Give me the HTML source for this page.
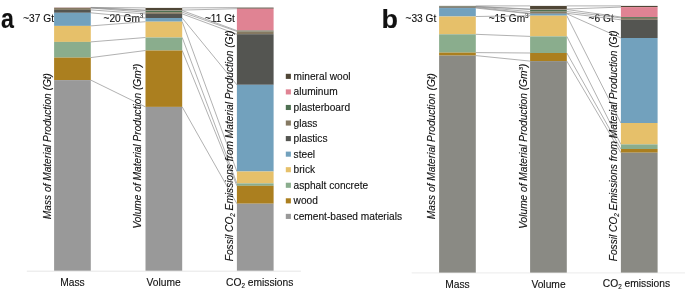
<!DOCTYPE html>
<html><head><meta charset="utf-8"><style>
html,body{margin:0;padding:0;background:#fff;}
body{width:685px;height:293px;overflow:hidden;}
svg{display:block;will-change:transform;}
text{font-family:"Liberation Sans",sans-serif;fill:#111;font-size:10.17px;stroke:#111;stroke-width:0.12px;}
line{stroke:#8f8f8f;stroke-width:0.7;}
</style></head><body>
<svg width="685" height="293" viewBox="0 0 685 293">
<rect width="685" height="293" fill="#fff"/>
<line x1="26.8" y1="271.2" x2="300.9" y2="271.2" style="stroke:#e6e6e6;stroke-width:1"/>
<line x1="411.7" y1="272.9" x2="685" y2="272.9" style="stroke:#ebebeb;stroke-width:1"/>
<text x="23.2" y="21.6">~37 Gt</text>
<text x="103.5" y="21.6">~20 Gm<tspan font-size="6.4" dx="-0.2" dy="-3.8">3</tspan></text>
<text x="204.9" y="21.6">~11 Gt</text>
<text x="405.5" y="21.8">~33 Gt</text>
<text x="488.7" y="21.6">~15 Gm<tspan font-size="6.4" dx="-0.2" dy="-3.8">3</tspan></text>
<text x="588.6" y="21.6">~6 Gt</text>
<line x1="90.80" y1="7.45" x2="145.50" y2="7.90"/>
<line x1="90.80" y1="7.50" x2="145.50" y2="10.10"/>
<line x1="90.80" y1="7.80" x2="145.50" y2="10.50"/>
<line x1="90.80" y1="8.00" x2="145.50" y2="12.20"/>
<line x1="90.80" y1="9.90" x2="145.50" y2="13.90"/>
<line x1="90.80" y1="12.80" x2="145.50" y2="18.00"/>
<line x1="90.80" y1="25.90" x2="145.50" y2="21.70"/>
<line x1="90.80" y1="41.90" x2="145.50" y2="37.50"/>
<line x1="90.80" y1="57.60" x2="145.50" y2="50.50"/>
<line x1="90.80" y1="80.10" x2="145.50" y2="106.90"/>
<line x1="182.20" y1="7.90" x2="236.90" y2="7.60"/>
<line x1="182.20" y1="10.10" x2="236.90" y2="8.70"/>
<line x1="182.20" y1="10.50" x2="236.90" y2="30.60"/>
<line x1="182.20" y1="12.20" x2="236.90" y2="31.40"/>
<line x1="182.20" y1="13.90" x2="236.90" y2="34.20"/>
<line x1="182.20" y1="18.00" x2="236.90" y2="84.80"/>
<line x1="182.20" y1="21.70" x2="236.90" y2="171.50"/>
<line x1="182.20" y1="37.50" x2="236.90" y2="183.40"/>
<line x1="182.20" y1="50.50" x2="236.90" y2="185.80"/>
<line x1="182.20" y1="106.90" x2="236.90" y2="203.70"/>
<line x1="475.80" y1="5.90" x2="530.10" y2="5.90"/>
<line x1="475.80" y1="6.50" x2="530.10" y2="9.00"/>
<line x1="475.80" y1="6.50" x2="530.10" y2="9.50"/>
<line x1="475.80" y1="6.80" x2="530.10" y2="11.60"/>
<line x1="475.80" y1="7.40" x2="530.10" y2="13.30"/>
<line x1="475.80" y1="8.05" x2="530.10" y2="13.80"/>
<line x1="475.80" y1="16.50" x2="530.10" y2="15.70"/>
<line x1="475.80" y1="34.30" x2="530.10" y2="36.40"/>
<line x1="475.80" y1="52.60" x2="530.10" y2="53.00"/>
<line x1="475.80" y1="55.60" x2="530.10" y2="61.10"/>
<line x1="566.80" y1="5.90" x2="620.90" y2="5.90"/>
<line x1="566.80" y1="9.00" x2="620.90" y2="7.10"/>
<line x1="566.80" y1="9.50" x2="620.90" y2="17.00"/>
<line x1="566.80" y1="11.60" x2="620.90" y2="17.90"/>
<line x1="566.80" y1="13.30" x2="620.90" y2="19.80"/>
<line x1="566.80" y1="13.80" x2="620.90" y2="38.00"/>
<line x1="566.80" y1="15.70" x2="620.90" y2="123.00"/>
<line x1="566.80" y1="36.40" x2="620.90" y2="144.40"/>
<line x1="566.80" y1="53.00" x2="620.90" y2="149.00"/>
<line x1="566.80" y1="61.10" x2="620.90" y2="152.70"/>
<rect x="54.10" y="7.45" width="36.7" height="0.05" fill="#4f4636"/>
<rect x="54.10" y="7.50" width="36.7" height="0.30" fill="#e08393"/>
<rect x="54.10" y="7.80" width="36.7" height="0.20" fill="#4e7052"/>
<rect x="54.10" y="8.00" width="36.7" height="1.90" fill="#857962"/>
<rect x="54.10" y="9.90" width="36.7" height="2.90" fill="#545551"/>
<rect x="54.10" y="12.80" width="36.7" height="13.10" fill="#72a1bd"/>
<rect x="54.10" y="25.90" width="36.7" height="16.00" fill="#e6c06a"/>
<rect x="54.10" y="41.90" width="36.7" height="15.70" fill="#8aad8d"/>
<rect x="54.10" y="57.60" width="36.7" height="22.50" fill="#ab7f1f"/>
<rect x="54.10" y="80.10" width="36.7" height="190.60" fill="#999999"/>
<rect x="145.50" y="7.90" width="36.7" height="2.20" fill="#4f4636"/>
<rect x="145.50" y="10.10" width="36.7" height="0.40" fill="#e08393"/>
<rect x="145.50" y="10.50" width="36.7" height="1.70" fill="#4e7052"/>
<rect x="145.50" y="12.20" width="36.7" height="1.70" fill="#857962"/>
<rect x="145.50" y="13.90" width="36.7" height="4.10" fill="#545551"/>
<rect x="145.50" y="18.00" width="36.7" height="3.70" fill="#72a1bd"/>
<rect x="145.50" y="21.70" width="36.7" height="15.80" fill="#e6c06a"/>
<rect x="145.50" y="37.50" width="36.7" height="13.00" fill="#8aad8d"/>
<rect x="145.50" y="50.50" width="36.7" height="56.40" fill="#ab7f1f"/>
<rect x="145.50" y="106.90" width="36.7" height="163.80" fill="#999999"/>
<rect x="236.90" y="7.60" width="36.7" height="1.10" fill="#4f4636"/>
<rect x="236.90" y="8.70" width="36.7" height="21.90" fill="#e08393"/>
<rect x="236.90" y="30.60" width="36.7" height="0.80" fill="#4e7052"/>
<rect x="236.90" y="31.40" width="36.7" height="2.80" fill="#857962"/>
<rect x="236.90" y="34.20" width="36.7" height="50.60" fill="#545551"/>
<rect x="236.90" y="84.80" width="36.7" height="86.70" fill="#72a1bd"/>
<rect x="236.90" y="171.50" width="36.7" height="11.90" fill="#e6c06a"/>
<rect x="236.90" y="183.40" width="36.7" height="2.40" fill="#8aad8d"/>
<rect x="236.90" y="185.80" width="36.7" height="17.90" fill="#ab7f1f"/>
<rect x="236.90" y="203.70" width="36.7" height="67.00" fill="#999999"/>
<rect x="439.10" y="5.90" width="36.7" height="0.60" fill="#4f4636"/>
<rect x="439.10" y="6.50" width="36.7" height="0.30" fill="#4e7052"/>
<rect x="439.10" y="6.80" width="36.7" height="0.60" fill="#857962"/>
<rect x="439.10" y="7.40" width="36.7" height="0.65" fill="#545551"/>
<rect x="439.10" y="8.05" width="36.7" height="8.45" fill="#72a1bd"/>
<rect x="439.10" y="16.50" width="36.7" height="17.80" fill="#e6c06a"/>
<rect x="439.10" y="34.30" width="36.7" height="18.30" fill="#8aad8d"/>
<rect x="439.10" y="52.60" width="36.7" height="3.00" fill="#ab7f1f"/>
<rect x="439.10" y="55.60" width="36.7" height="217.00" fill="#8a8a84"/>
<rect x="530.10" y="5.90" width="36.7" height="3.10" fill="#4f4636"/>
<rect x="530.10" y="9.00" width="36.7" height="0.50" fill="#e08393"/>
<rect x="530.10" y="9.50" width="36.7" height="2.10" fill="#4e7052"/>
<rect x="530.10" y="11.60" width="36.7" height="1.70" fill="#857962"/>
<rect x="530.10" y="13.30" width="36.7" height="0.50" fill="#545551"/>
<rect x="530.10" y="13.80" width="36.7" height="1.90" fill="#72a1bd"/>
<rect x="530.10" y="15.70" width="36.7" height="20.70" fill="#e6c06a"/>
<rect x="530.10" y="36.40" width="36.7" height="16.60" fill="#8aad8d"/>
<rect x="530.10" y="53.00" width="36.7" height="8.10" fill="#ab7f1f"/>
<rect x="530.10" y="61.10" width="36.7" height="211.50" fill="#8a8a84"/>
<rect x="620.90" y="5.90" width="36.7" height="1.20" fill="#4f4636"/>
<rect x="620.90" y="7.10" width="36.7" height="9.90" fill="#e08393"/>
<rect x="620.90" y="17.00" width="36.7" height="0.90" fill="#4e7052"/>
<rect x="620.90" y="17.90" width="36.7" height="1.90" fill="#857962"/>
<rect x="620.90" y="19.80" width="36.7" height="18.20" fill="#545551"/>
<rect x="620.90" y="38.00" width="36.7" height="85.00" fill="#72a1bd"/>
<rect x="620.90" y="123.00" width="36.7" height="21.40" fill="#e6c06a"/>
<rect x="620.90" y="144.40" width="36.7" height="4.60" fill="#8aad8d"/>
<rect x="620.90" y="149.00" width="36.7" height="3.70" fill="#ab7f1f"/>
<rect x="620.90" y="152.70" width="36.7" height="119.90" fill="#8a8a84"/>
<text transform="translate(1.1,28.4) scale(0.86,1)" style="font-size:27px;font-weight:bold">a</text>
<text transform="translate(381.5,28.3) scale(1,0.97)" style="font-size:27px;font-weight:bold">b</text>
<text transform="translate(50.6,219.2) rotate(-90)" font-style="italic">Mass of Material Production (Gt)</text>
<text transform="translate(141.2,228.6) rotate(-90)" font-style="italic">Volume of Material Production (Gm<tspan font-size="6.2" dy="-3.8">3</tspan><tspan dy="3.8">)</tspan></text>
<text transform="translate(233.2,261.3) rotate(-90)" font-style="italic">Fossil CO<tspan font-size="6.3" dy="1.9">2</tspan><tspan dy="-1.9"> Emissions from Material Production (Gt)</tspan></text>
<text transform="translate(434.8,219.2) rotate(-90)" font-style="italic">Mass of Material Production (Gt)</text>
<text transform="translate(526.9,228.8) rotate(-90)" font-style="italic">Volume of Material Production (Gm<tspan font-size="6.2" dy="-3.8">3</tspan><tspan dy="3.8">)</tspan></text>
<text transform="translate(617.0,261.3) rotate(-90)" font-style="italic">Fossil CO<tspan font-size="6.3" dy="1.9">2</tspan><tspan dy="-1.9"> Emissions from Material Production (Gt)</tspan></text>
<text x="72.4" y="286.3" text-anchor="middle" style="font-size:10.25px">Mass</text>
<text x="163.6" y="286.2" text-anchor="middle" style="font-size:10.25px">Volume</text>
<text x="226.0" y="285.8" style="font-size:10.25px">CO<tspan font-size="6.3" dy="1.9">2</tspan><tspan dy="-1.9"> emissions</tspan></text>
<text x="457.5" y="287.8" text-anchor="middle" style="font-size:10.25px">Mass</text>
<text x="548.5" y="287.8" text-anchor="middle" style="font-size:10.25px">Volume</text>
<text x="602.8" y="286.8" style="font-size:10.25px">CO<tspan font-size="6.3" dy="1.9">2</tspan><tspan dy="-1.9"> emissions</tspan></text>
<rect x="285.8" y="73.80" width="5.1" height="5.1" fill="#4f4636"/>
<text x="293.6" y="79.90">mineral wool</text>
<rect x="285.8" y="89.36" width="5.1" height="5.1" fill="#e08393"/>
<text x="293.6" y="95.46">aluminum</text>
<rect x="285.8" y="104.92" width="5.1" height="5.1" fill="#4e7052"/>
<text x="293.6" y="111.02">plasterboard</text>
<rect x="285.8" y="120.48" width="5.1" height="5.1" fill="#857962"/>
<text x="293.6" y="126.58">glass</text>
<rect x="285.8" y="136.04" width="5.1" height="5.1" fill="#545551"/>
<text x="293.6" y="142.14">plastics</text>
<rect x="285.8" y="151.60" width="5.1" height="5.1" fill="#72a1bd"/>
<text x="293.6" y="157.70">steel</text>
<rect x="285.8" y="167.16" width="5.1" height="5.1" fill="#e6c06a"/>
<text x="293.6" y="173.26">brick</text>
<rect x="285.8" y="182.72" width="5.1" height="5.1" fill="#8aad8d"/>
<text x="293.6" y="188.82">asphalt concrete</text>
<rect x="285.8" y="198.28" width="5.1" height="5.1" fill="#ab7f1f"/>
<text x="293.6" y="204.38">wood</text>
<rect x="285.8" y="213.84" width="5.1" height="5.1" fill="#999999"/>
<text x="293.6" y="219.94">cement-based materials</text>
</svg>
</body></html>
